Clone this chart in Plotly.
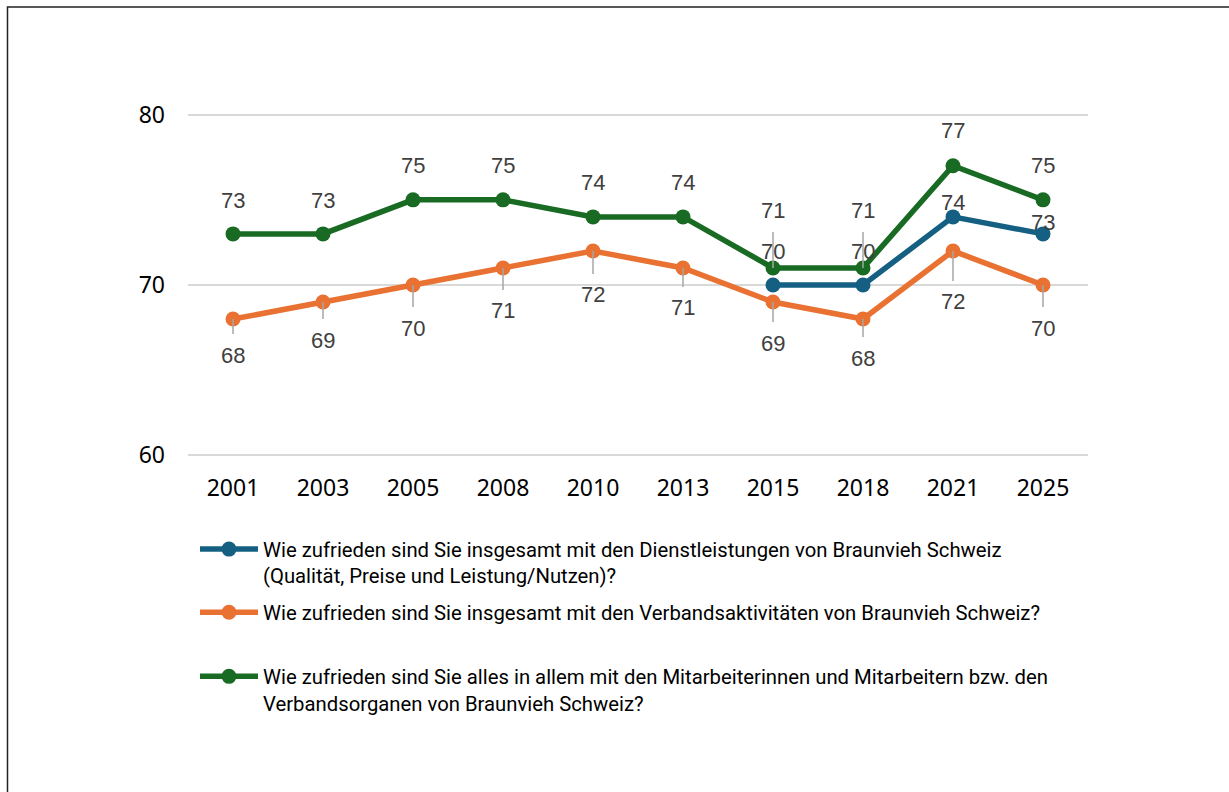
import plotly.graph_objects as go

years = ["2001", "2003", "2005", "2008", "2010", "2013", "2015", "2018", "2021", "2025"]
dienst = [None, None, None, None, None, None, 70, 70, 74, 73]
verband = [68, 69, 70, 71, 72, 71, 69, 68, 72, 70]
mitarb = [73, 73, 75, 75, 74, 74, 71, 71, 77, 75]

names = [
    "Wie zufrieden sind Sie insgesamt mit den Dienstleistungen von Braunvieh Schweiz<br>(Qualität, Preise und Leistung/Nutzen)?",
    "Wie zufrieden sind Sie insgesamt mit den Verbandsaktivitäten von Braunvieh Schweiz?",
    "Wie zufrieden sind Sie alles in allem mit den Mitarbeiterinnen und Mitarbeitern bzw. den<br>Verbandsorganen von Braunvieh Schweiz?",
]
colors = ["#156082", "#E97132", "#196B24"]
series = [dienst, verband, mitarb]

# label offsets in pixels (negative = above) and whether a leader line is drawn
offs = [
    [0, 0, 0, 0, 0, 0, -34, -34, -14, -11],
    [36, 38, 43, 43, 44, 40, 41, 39, 51, 43],
    [-33, -33, -34, -34, -34, -34, -57, -57, -35, -34],
]
leaders = [
    [False] * 10,
    [True] * 10,
    [False] * 6 + [True, True, False, False],
]

W, H = 1229, 792
L, R = 188, 141
YMIN, YMAX = 59.9, 80.1
T, B = 113.3, 335.3
PW = W - L - R
PH = H - T - B


def px_x(px):
    return (px - L) / PW


def px_y(py):
    return (H - B - py) / PH


fig = go.Figure()
legend_ids = ["legend", "legend2", "legend3"]
for name, col, vals, lg in zip(names, colors, series, legend_ids):
    fig.add_trace(go.Scatter(
        x=years, y=vals, name=name, mode="lines+markers",
        line=dict(color=col, width=5.5),
        marker=dict(color=col, size=15),
        connectgaps=False, legend=lg, showlegend=True,
    ))

lab_font = dict(family="Liberation Sans, Arial", size=22, color="#404040")
annotations = []
for s, vals in enumerate(series):
    for i, v in enumerate(vals):
        if v is None:
            continue
        if leaders[s][i]:
            annotations.append(dict(
                x=i, y=v, xref="x", yref="y", text=str(v),
                showarrow=True, arrowhead=0, arrowwidth=1.5, arrowcolor="#A6A6A6",
                ax=0, ay=offs[s][i], standoff=0, borderpad=8, font=lab_font,
            ))
        else:
            annotations.append(dict(
                x=i, y=v, xref="x", yref="y", text=str(v),
                showarrow=False, yshift=-offs[s][i], yanchor="middle", font=lab_font,
            ))

leg_common = dict(xanchor="left", yanchor="top", orientation="v",
                  font=dict(size=20.3, color="#000000", family="Roboto"),
                  valign="top", itemwidth=58, bgcolor="rgba(0,0,0,0)")
leg_x = px_x(195)
leg_tops = [529, 592, 656]

fig.update_layout(
    width=W, height=H,
    showlegend=True,
    margin=dict(l=L, r=R, t=T, b=B, pad=0),
    plot_bgcolor="white", paper_bgcolor="white",
    font=dict(family="Noto Sans", color="#000000"),
    xaxis=dict(type="category", range=[-0.5, 9.5], showgrid=False, showline=False,
               zeroline=False, tickfont=dict(size=23, color="#000000"),
               ticks="", ticklabelstandoff=15),
    yaxis=dict(range=[YMIN, YMAX], tickvals=[60, 70, 80], showgrid=True, gridcolor="#D9D9D9",
               gridwidth=1.5, zeroline=False, showline=False,
               tickfont=dict(size=23, color="#000000"), ticks="", ticklabelstandoff=22),
    legend=dict(x=leg_x, y=px_y(leg_tops[0]), **leg_common),
    legend2=dict(x=leg_x, y=px_y(leg_tops[1]), **leg_common),
    legend3=dict(x=leg_x, y=px_y(leg_tops[2]), **leg_common),
    annotations=annotations,
    shapes=[dict(type="rect", xref="paper", yref="paper",
                 x0=px_x(7.5), x1=px_x(W + 40),
                 y0=px_y(H + 40), y1=px_y(7.5),
                 line=dict(color="#222222", width=1.5), layer="below")],
)

fig.write_html(
    "out.html",
    config={"displayModeBar": False},
    post_script="document.body.style.margin='0';document.body.style.overflow='hidden';",
)
